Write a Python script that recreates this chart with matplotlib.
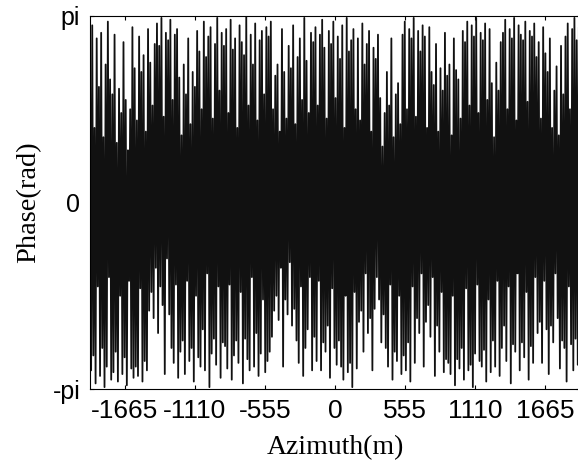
import matplotlib
matplotlib.use("Agg")
import matplotlib.pyplot as plt
import numpy as np

# Data (phase, in hundredths of pi)
peaks = [
    78, 95, 40, 88, 62, 91, 35, 74, 97, 66, 58, 90, 32, 61, 48, 86, 55, 28, 50, 94,
    72, 44, 89, 70, 79, 38, 93, 75, 52, 85, 96, 84, 99, 46, 91, 87, 98, 55, 90, 93,
    67, 36, 74, 58, 88, 42, 70, 62, 92, 81, 50, 97, 78, 89, 94, 45, 85, 99, 60, 91,
    84, 93, 48, 98, 82, 88, 40, 95, 86, 79, 100, 52, 90, 74, 96, 44, 87, 92, 58, 94,
    89, 97, 50, 68, 74, 38, 93, 70, 45, 84, 72, 95, 42, 78, 88, 55, 99, 76, 48, 91,
    86, 94, 52, 90, 98, 83, 45, 92, 85, 97, 56, 89, 77, 95, 40, 99, 81, 87, 93, 50,
    88, 44, 96, 74, 85, 92, 38, 83, 77, 90, 56, 30, 48, 70, 52, 88, 35, 58, 64, 42,
    90, 97, 50, 93, 88, 99, 46, 92, 81, 95, 89, 40, 94, 70, 63, 85, 38, 72, 60, 91,
    68, 74, 36, 88, 71, 66, 45, 92, 86, 97, 52, 95, 89, 99, 48, 91, 87, 96, 55, 93,
    64, 35, 75, 60, 86, 91, 98, 50, 93, 88, 99, 44, 95, 90, 87, 97, 54, 92, 89, 96,
    78, 86, 45, 94, 80, 70, 88, 40, 60, 73, 36, 84, 58, 89, 96, 50, 93, 99, 87, 94,
]
troughs = [
    -90, -82, -97, -45, -93, -78, -99, -88, -40, -95, -91, -80, -96, -50, -92, -83, -98, -42, -89, -94,
    -88, -93, -46, -96, -85, -90, -58, -48, -62, -35, -70, -45, -55, -92, -30, -60, -78, -86, -44, -94,
    -80, -74, -92, -42, -85, -78, -96, -50, -83, -88, -68, -90, -38, -99, -81, -73, -87, -45, -94, -75,
    -77, -89, -44, -95, -82, -74, -86, -48, -97, -73, -84, -90, -40, -88, -70, -93, -81, -52, -91, -85,
    -80, -72, -58, -50, -63, -35, -88, -52, -60, -32, -66, -57, -74, -86, -45, -93, -78, -68, -40, -90,
    -72, -85, -42, -90, -75, -80, -66, -94, -46, -78, -87, -74, -88, -95, -50, -91, -86, -99, -48, -89,
    -64, -58, -80, -38, -70, -62, -90, -57, -40, -52, -75, -60, -78, -88, -44, -95, -80, -85, -50, -92,
    -82, -90, -75, -96, -45, -86, -62, -70, -38, -88, -64, -55, -72, -40, -93, -66, -80, -48, -91, -84,
    -86, -92, -50, -98, -84, -89, -78, -95, -46, -90, -87, -99, -81, -44, -85, -88, -79, -96, -52, -91,
    -74, -88, -42, -93, -78, -66, -85, -45, -97, -76, -80, -38, -90, -75, -83, -48, -95, -77, -86, -40,
    -70, -64, -86, -42, -68, -92, -66, -75, -38, -62, -89, -74, -78, -96, -45, -76, -90, -73, -87, -84,
]
azimuth_min, azimuth_max = -1942, 1942
xticks = [-1665, -1110, -555, 0, 555, 1110, 1665]

phase = np.empty(len(peaks) + len(troughs))
phase[0::2] = np.array(peaks) / 100 * np.pi
phase[1::2] = np.array(troughs) / 100 * np.pi
azimuth = np.linspace(azimuth_min, azimuth_max, len(phase))

fig = plt.figure(figsize=(5.78, 4.68), dpi=100)
ax = fig.add_axes([90 / 578, 79 / 468, 490 / 578, 373 / 468])
ax.plot(azimuth, phase, color="#111111", linewidth=1.3)

ax.set_xlim(azimuth_min, azimuth_max)
ax.set_ylim(-np.pi, np.pi)
ax.set_xticks(xticks)
ax.set_xticklabels([str(t) for t in xticks], family="Liberation Sans", fontsize=19)
ax.set_yticks([-np.pi, 0, np.pi])
ax.set_yticklabels(["-pi", "0", "pi"], family="Liberation Sans", fontsize=18)
ax.tick_params(direction="in", length=3, width=0.8, top=True, right=True)
ax.tick_params(axis="x", pad=7)
ax.tick_params(axis="y", pad=7)

ax.set_xlabel("Azimuth(m)", family="Liberation Serif", fontsize=20, labelpad=9)
ax.set_ylabel("Phase(rad)", family="Liberation Serif", fontsize=20.5, labelpad=8)

fig.savefig("out.png", dpi=100)
